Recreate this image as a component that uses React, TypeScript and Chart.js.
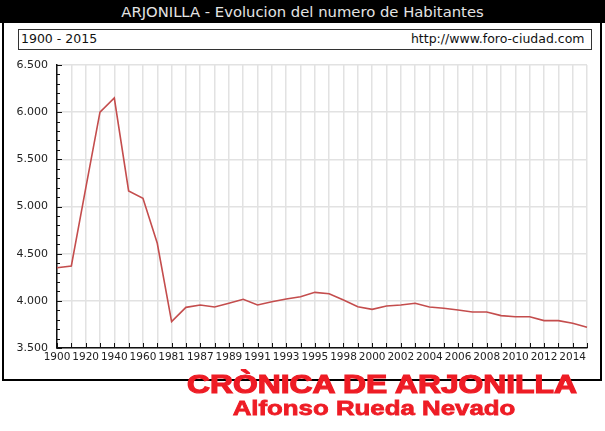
import React, { useEffect, useRef } from "react";
import { Chart, registerables } from "chart.js";

Chart.register(...registerables);

const titleText = "ARJONILLA - Evolucion del numero de Habitantes";
const rangeText = "1900 - 2015";
const sourceText = "http://www.foro-ciudad.com";
const bannerText = "CRÒNICA DE ARJONILLA";
const authorText = "Alfonso Rueda Nevado";

const years = [
  "1900", "1910", "1920", "1930", "1940", "1950", "1960", "1970", "1981", "1986",
  "1987", "1988", "1989", "1990", "1991", "1992", "1993", "1994", "1995", "1996",
  "1998", "1999", "2000", "2001", "2002", "2003", "2004", "2005", "2006", "2007",
  "2008", "2009", "2010", "2011", "2012", "2013", "2014", "2015",
];

const inhabitants = [
  4350, 4370, 5190, 6000, 6150, 5165, 5087, 4610, 3780, 3931,
  3956, 3935, 3974, 4016, 3956, 3991, 4020, 4044, 4090, 4076,
  4009, 3938, 3910, 3945, 3956, 3974, 3935, 3921, 3903, 3882,
  3882, 3843, 3832, 3832, 3790, 3790, 3762, 3720,
];

const yMin = 3500;
const yMax = 6500;
const yStep = 500;
const yMinorStep = 100;

const fmt = (v: number) => {
  const s = String(Math.round(v));
  return s.length > 3 ? s.slice(0, s.length - 3) + "." + s.slice(s.length - 3) : s;
};

const innerTicks = {
  id: "innerTicks",
  afterDraw(chart: any) {
    const { ctx, chartArea, scales } = chart;
    const xs = scales.x;
    const ys = scales.y;
    ctx.save();
    ctx.strokeStyle = "#111";
    ctx.lineWidth = 1;
    ctx.beginPath();
    for (let i = 0; i < years.length; i++) {
      const x = Math.round(xs.getPixelForValue(i)) + 0.5;
      ctx.moveTo(x, chartArea.bottom);
      ctx.lineTo(x, chartArea.bottom - 5);
    }
    for (let v = yMin; v <= yMax; v += yMinorStep) {
      const y = Math.round(ys.getPixelForValue(v)) + 0.5;
      const len = v % yStep === 0 ? 5 : 3;
      ctx.moveTo(chartArea.left, y);
      ctx.lineTo(chartArea.left + len, y);
    }
    ctx.stroke();
    ctx.restore();
  },
};

function ChartCanvas() {
  const ref = useRef<HTMLCanvasElement | null>(null);
  useEffect(() => {
    if (!ref.current) return;
    const chart = new Chart(ref.current, {
      type: "line",
      data: {
        labels: years,
        datasets: [
          {
            data: inhabitants,
            borderColor: "#c44d4d",
            borderWidth: 1.6,
            pointRadius: 0,
            tension: 0,
            fill: false,
          },
        ],
      },
      options: {
        animation: false,
        responsive: false,
        maintainAspectRatio: false,
        layout: { padding: { top: 65, right: 18, bottom: 63, left: 0 } },
        plugins: { legend: { display: false }, tooltip: { enabled: false }, title: { display: false } },
        scales: {
          x: {
            type: "category",
            offset: false,
            grid: { color: "#e2e2e2", lineWidth: 1.5, drawTicks: false },
            border: { color: "#111", width: 1.5 },
            ticks: {
              autoSkip: false,
              maxRotation: 0,
              minRotation: 0,
              padding: 3,
              color: "#222",
              font: { family: "DejaVu Sans", size: 10.5 },
              callback: (_v: any, i: number) => (i % 2 === 0 ? years[i] : ""),
            },
            afterFit: (s: any) => {
              s.height = 20;
            },
          },
          y: {
            min: yMin,
            max: yMax,
            grid: { color: "#e2e2e2", lineWidth: 1.5, drawTicks: false },
            border: { color: "#111", width: 1.5 },
            ticks: {
              stepSize: yStep,
              padding: 9,
              color: "#222",
              font: { family: "DejaVu Sans", size: 11 },
              callback: (v: any) => fmt(Number(v)),
            },
            afterFit: (s: any) => {
              s.width = 57;
            },
          },
        },
      },
      plugins: [innerTicks],
    });
    return () => chart.destroy();
  }, []);
  return (
    <canvas
      ref={ref}
      width={605}
      height={431}
      style={{ position: "absolute", left: 0, top: 0, width: 605, height: 431 }}
    />
  );
}

export default function App() {
  const abs: React.CSSProperties = { position: "absolute" };
  return (
    <div
      style={{
        position: "fixed",
        left: 0,
        top: 0,
        width: 605,
        height: 431,
        background: "#fff",
        overflow: "hidden",
      }}
    >
      <div style={{ ...abs, left: 0, top: 0, width: 605, height: 23, background: "#000" }} />
      <div style={{ ...abs, left: 2, top: 0, width: 2, height: 381, background: "#000" }} />
      <div style={{ ...abs, left: 600, top: 0, width: 2, height: 381, background: "#000" }} />
      <div style={{ ...abs, left: 2, top: 379, width: 600, height: 1.5, background: "#000" }} />
      <div
        style={{
          ...abs,
          left: 0,
          top: 5,
          width: 605,
          textAlign: "center",
          fontFamily: "DejaVu Sans",
          fontSize: 14.8,
          lineHeight: "14.8px",
          color: "#e4e4e4",
          whiteSpace: "nowrap",
        }}
      >
        {titleText}
      </div>
      <div
        style={{
          ...abs,
          left: 18,
          top: 29,
          width: 574,
          height: 21,
          boxSizing: "border-box",
          border: "1.5px solid #333",
        }}
      />
      <div
        style={{
          ...abs,
          left: 21,
          top: 32.7,
          fontFamily: "DejaVu Sans",
          fontSize: 12.5,
          lineHeight: "12.5px",
          color: "#111",
          whiteSpace: "nowrap",
        }}
      >
        {rangeText}
      </div>
      <div
        style={{
          ...abs,
          right: 20.5,
          top: 32.7,
          fontFamily: "DejaVu Sans",
          fontSize: 12.5,
          lineHeight: "12.5px",
          color: "#111",
          whiteSpace: "nowrap",
        }}
      >
        {sourceText}
      </div>
      <ChartCanvas />
      <div
        style={{
          ...abs,
          left: 381.5 - 300,
          width: 600,
          top: 370.9,
          textAlign: "center",
          fontFamily: "Liberation Sans",
          fontWeight: "bold",
          fontSize: 26.5,
          lineHeight: "26.5px",
          color: "#ee1c25",
          WebkitTextStroke: "1.2px #ee1c25",
          whiteSpace: "nowrap",
          transform: "scaleX(1.2)",
          transformOrigin: "50% 50%",
        }}
      >
        {bannerText}
      </div>
      <div
        style={{
          ...abs,
          left: 374 - 300,
          width: 600,
          top: 397.2,
          textAlign: "center",
          fontFamily: "Liberation Sans",
          fontWeight: "bold",
          fontSize: 21,
          lineHeight: "21px",
          color: "#ee1c25",
          WebkitTextStroke: "0.8px #ee1c25",
          whiteSpace: "nowrap",
          transform: "scaleX(1.23)",
          transformOrigin: "50% 50%",
        }}
      >
        {authorText}
      </div>
    </div>
  );
}
